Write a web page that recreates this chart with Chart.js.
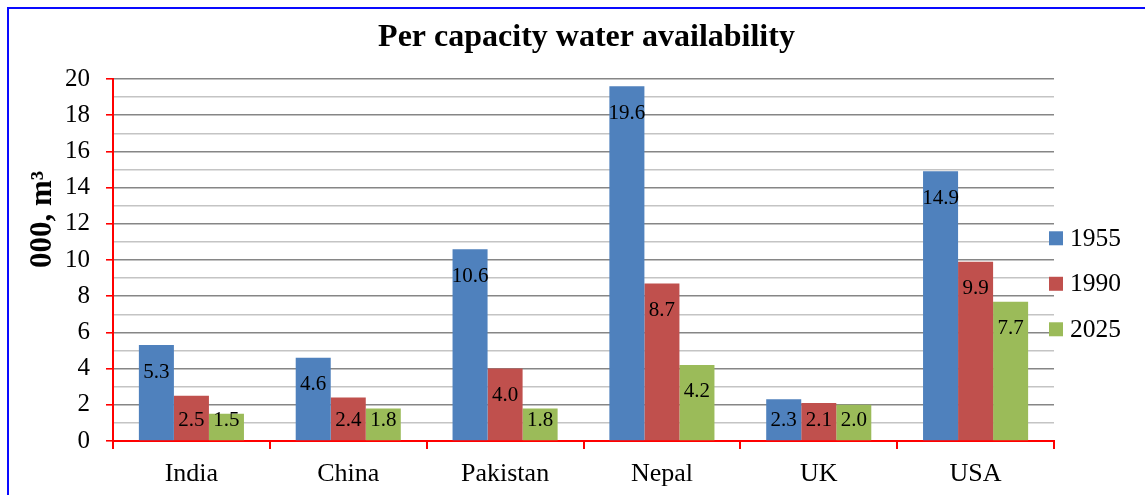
<!DOCTYPE html>
<html>
<head>
<meta charset="utf-8">
<script src="https://cdn.jsdelivr.net/npm/chart.js@4/dist/chart.umd.min.js"></script>
<style>
  html, body { margin: 0; padding: 0; background: #fff; overflow: hidden; }
  #wrap { width: 1145px; height: 495px; position: relative; }
</style>
</head>
<body>
<div id="wrap"><canvas id="chart" width="1145" height="495"></canvas></div>
<script>
// Per-capita water availability, thousand m³
const countries = ['India', 'China', 'Pakistan', 'Nepal', 'UK', 'USA'];
const seriesNames = ['1955', '1990', '2025'];
const values1955 = [5.3, 4.6, 10.6, 19.6, 2.3, 14.9];
const values1990 = [2.5, 2.4, 4.0, 8.7, 2.1, 9.9];
const values2025 = [1.5, 1.8, 1.8, 4.2, 2.0, 7.7];
const yTickLabels = [0, 2, 4, 6, 8, 10, 12, 14, 16, 18, 20];
const seriesColors = ['#4F81BD', '#C0504D', '#9BBB59'];
const chartTitle = 'Per capacity water availability';
const axisTitle = '000, m³';

const SERIF = "'Liberation Serif', 'Times New Roman', serif";

// White background and blue frame around the whole figure
const framePlugin = {
  id: 'frame',
  beforeDraw(chart) {
    const ctx = chart.ctx;
    ctx.save();
    ctx.fillStyle = '#ffffff';
    ctx.fillRect(0, 0, chart.width, chart.height);
    ctx.strokeStyle = '#0a0aff';
    ctx.lineWidth = 2;
    ctx.strokeRect(8, 8, chart.width + 20, chart.height + 20);
    ctx.restore();
  }
};

// Title centred on the framed figure
const titlePlugin = {
  id: 'figureTitle',
  afterDraw(chart) {
    const ctx = chart.ctx;
    ctx.save();
    ctx.font = 'bold 32px ' + SERIF;
    ctx.fillStyle = '#000';
    ctx.textAlign = 'center';
    ctx.textBaseline = 'alphabetic';
    ctx.fillText(chartTitle, (8 + chart.width + 20) / 2 + 0, 46);
    ctx.restore();
  }
};

// Value labels near the top inside each bar
const barValuePlugin = {
  id: 'barValues',
  afterDatasetsDraw(chart) {
    const ctx = chart.ctx;
    const zeroY = chart.scales.y.getPixelForValue(0);
    ctx.save();
    ctx.font = '21px ' + SERIF;
    ctx.fillStyle = '#000';
    ctx.textAlign = 'center';
    ctx.textBaseline = 'middle';
    chart.data.datasets.forEach((ds, i) => {
      const meta = chart.getDatasetMeta(i);
      meta.data.forEach((bar, j) => {
        const y = Math.min(bar.y + 27, zeroY - 21);
        ctx.fillText(ds.data[j].toFixed(1), bar.x, y);
      });
    });
    ctx.restore();
  }
};

// Rotated y-axis title with the superscript unit
const axisTitlePlugin = {
  id: 'axisTitle',
  afterDraw(chart) {
    const ctx = chart.ctx;
    const area = chart.chartArea;
    ctx.save();
    ctx.translate(43, area.top + (area.bottom - area.top) * 0.388);
    ctx.rotate(-Math.PI / 2);
    ctx.font = 'bold 31px ' + SERIF;
    ctx.fillStyle = '#000';
    ctx.textAlign = 'center';
    ctx.textBaseline = 'middle';
    ctx.fillText(axisTitle, 0, 0);
    ctx.restore();
  }
};

// Legend on the right edge of the plot
const sideLegendPlugin = {
  id: 'sideLegend',
  afterDraw(chart) {
    const ctx = chart.ctx;
    const area = chart.chartArea;
    const x0 = area.right - 5;
    const y0 = area.top + (area.bottom - area.top) * 0.44;
    ctx.save();
    ctx.font = '25.5px ' + SERIF;
    ctx.textAlign = 'left';
    ctx.textBaseline = 'middle';
    chart.data.datasets.forEach((ds, i) => {
      const cy = y0 + i * 45.5;
      ctx.fillStyle = ds.backgroundColor;
      ctx.fillRect(x0, cy - 7, 14, 14);
      ctx.fillStyle = '#000';
      ctx.fillText(ds.label, x0 + 21, cy + 1);
    });
    ctx.restore();
  }
};

new Chart(document.getElementById('chart'), {
  type: 'bar',
  data: {
    labels: countries,
    datasets: [
      { label: seriesNames[0], data: values1955, backgroundColor: seriesColors[0] },
      { label: seriesNames[1], data: values1990, backgroundColor: seriesColors[1] },
      { label: seriesNames[2], data: values2025, backgroundColor: seriesColors[2] }
    ]
  },
  options: {
    responsive: false,
    animation: false,
    devicePixelRatio: 1,
    layout: { padding: { left: 0, right: 91, top: 79, bottom: 0 } },
    datasets: {
      bar: { categoryPercentage: 0.67, barPercentage: 1.0, borderWidth: 0 }
    },
    plugins: {
      legend: { display: false },
      tooltip: { enabled: false },
      title: { display: false }
    },
    scales: {
      x: {
        afterFit(scale) { scale.height = 54; },
        grid: {
          offset: true,
          drawOnChartArea: false,
          drawTicks: true,
          tickLength: 8,
          tickColor: '#ff0000',
          color: '#ff0000',
          lineWidth: 2
        },
        border: { color: '#ff0000', width: 2 },
        ticks: {
          color: '#000',
          padding: 10,
          font: { family: SERIF, size: 26 }
        }
      },
      y: {
        min: 0,
        max: 20,
        afterFit(scale) { scale.width = 113; },
        ticks: {
          stepSize: 1,
          autoSkip: false,
          padding: 16,
          color: '#000',
          font: { family: SERIF, size: 25 },
          callback: (v) => yTickLabels.includes(v) ? String(v) : ''
        },
        grid: {
          color: (c) => {
            const v = c.tick ? c.tick.value : 0;
            if (v === 0) return 'rgba(0,0,0,0)';
            return v % 2 === 0 ? '#868686' : '#c4c4c4';
          },
          lineWidth: 1.6,
          tickLength: 7,
          tickColor: (c) => (c.tick && c.tick.value % 2 === 0) ? '#ff0000' : 'rgba(0,0,0,0)'
        },
        border: { color: '#ff0000', width: 2 }
      }
    }
  },
  plugins: [framePlugin, titlePlugin, barValuePlugin, axisTitlePlugin, sideLegendPlugin]
});
</script>
</body>
</html>
